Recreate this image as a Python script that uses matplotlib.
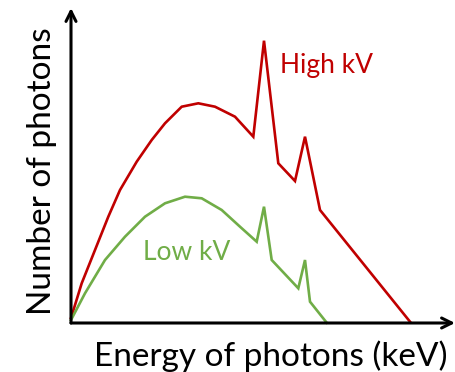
import matplotlib
matplotlib.use("Agg")
import matplotlib.pyplot as plt

# Spectrum data (arbitrary energy units vs photon counts)
high_energy = [0, 10.7, 24, 37.3, 49, 65.7, 80.7, 94, 110.7, 127.3, 144, 164, 182.3,
               193, 207.3, 224, 234, 249, 339]
high_counts = [5, 39.7, 73, 106.3, 133, 161.3, 183, 199.7, 216.3, 219.7, 216.3, 206.3, 186.3,
               282.3, 159.7, 142, 186.3, 113, 1.3]

low_energy = [0, 14, 34, 54, 74, 94, 114, 130.7, 150.7, 169, 185.7,
              193, 200.7, 227.3, 234, 239, 255.7]
low_counts = [3, 29.7, 63, 86.3, 106.3, 119.7, 126.3, 124.7, 113, 96.3, 81.3,
              116.3, 63, 34.7, 63, 21.3, 0.3]

x_label = "Energy of photons (keV)"
y_label = "Number of photons"
high_label = "High kV"
low_label = "Low kV"

plt.rcParams['font.family'] = ['Lato', 'DejaVu Sans']

W, H = 455, 372
fig = plt.figure(figsize=(W / 100, H / 100), dpi=100)
ox, oy = 71, 323
ax = fig.add_axes([ox / W, (H - oy) / H, (W - ox) / W, (oy - 8) / H])
ax.set_xlim(0, W - ox)
ax.set_ylim(0, oy - 8)
ax.axis('off')

ax.plot(high_energy, high_counts, color='#C00000', lw=1.9, solid_joinstyle='miter', clip_on=False)
ax.plot(low_energy, low_counts, color='#70AD47', lw=1.9, solid_joinstyle='miter', clip_on=False)

# axes with arrows
ax.annotate('', xy=(1, 0), xytext=(0, 0), xycoords='axes fraction',
            arrowprops=dict(arrowstyle='->', lw=2.2, color='black', mutation_scale=18,
                            shrinkA=0, shrinkB=0), annotation_clip=False)
ax.annotate('', xy=(0, 1), xytext=(0, 0), xycoords='axes fraction',
            arrowprops=dict(arrowstyle='->', lw=2.2, color='black', mutation_scale=18,
                            shrinkA=0, shrinkB=0), annotation_clip=False)

ax.text(326 - ox, oy - 65, high_label, color='#C00000', fontsize=19, ha='center', va='center')
ax.text(186.5 - ox, oy - 252, low_label, color='#70AD47', fontsize=19, ha='center', va='center')

fig.text(271 / W, 1 - 356 / H, x_label, fontsize=24, ha='center', va='center')
fig.text(42 / W, 1 - 171 / H, y_label, fontsize=24, ha='center', va='center', rotation=90)

fig.savefig('out.png', dpi=100)
